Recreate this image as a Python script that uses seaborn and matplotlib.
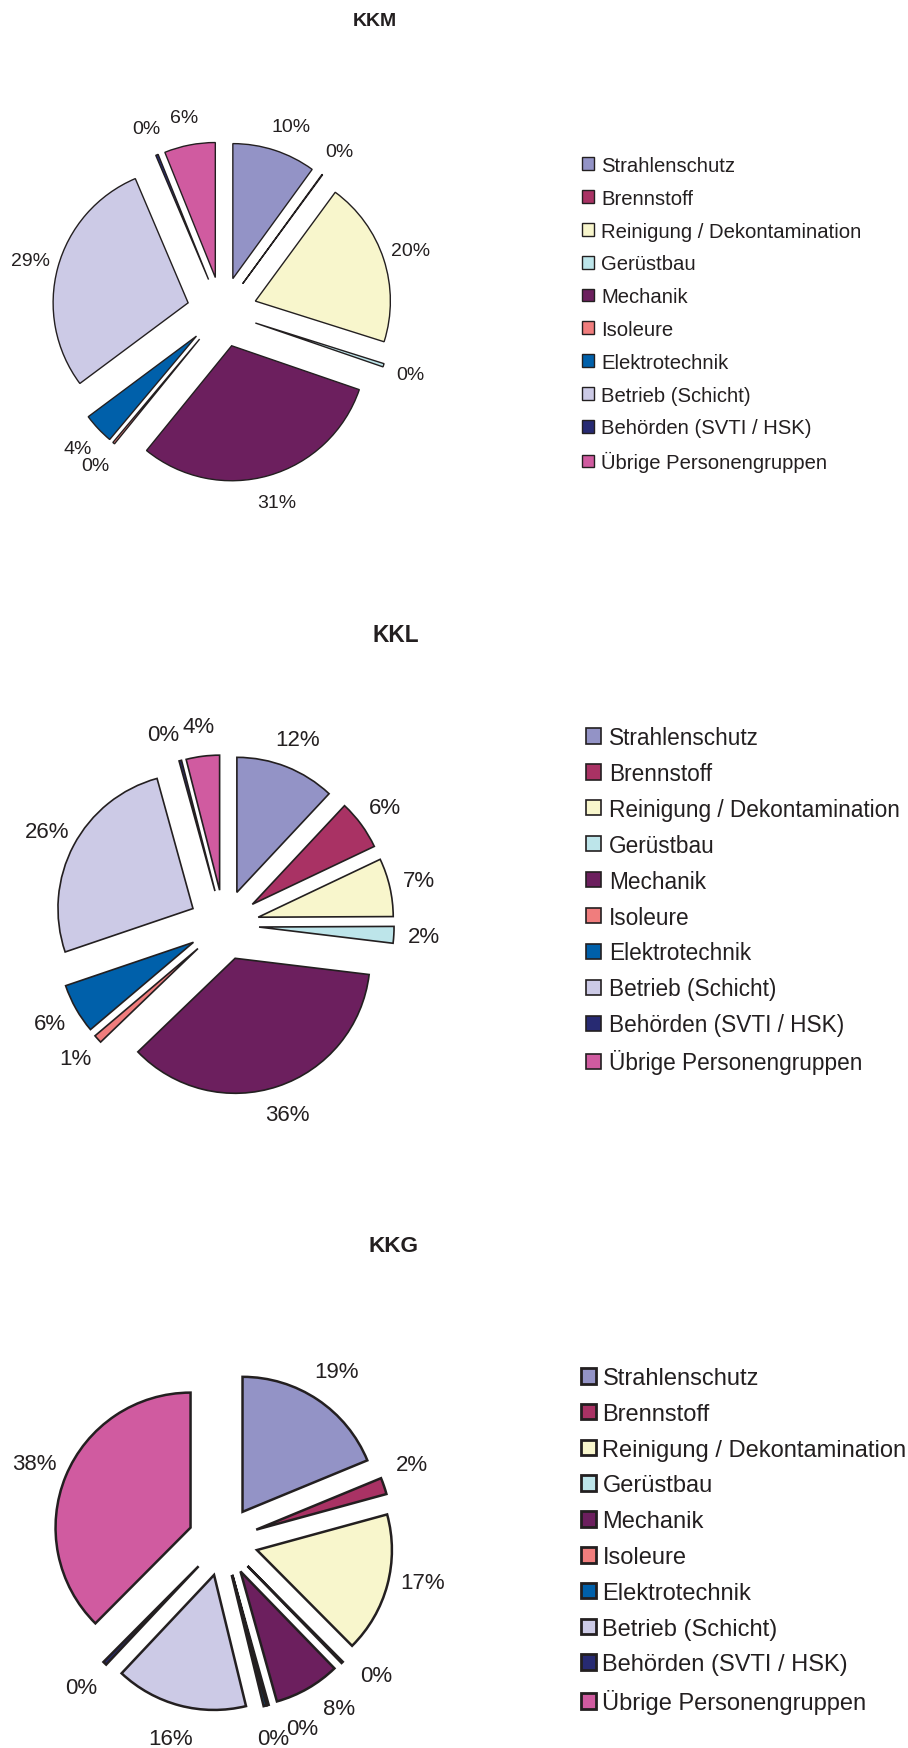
import numpy as np
import matplotlib
matplotlib.use("Agg")
import matplotlib.pyplot as plt
import seaborn as sns

# ---------------- data ----------------
categories = ["Strahlenschutz", "Brennstoff", "Reinigung / Dekontamination", "Gerüstbau",
              "Mechanik", "Isoleure", "Elektrotechnik", "Betrieb (Schicht)",
              "Behörden (SVTI / HSK)", "Übrige Personengruppen"]

kkm_values = [10.0, 0.08, 19.8, 0.4, 30.6, 0.25, 3.7, 28.8, 0.3, 6.1]
kkl_values = [12.0, 6.0, 7.0, 2.0, 36.0, 1.0, 6.0, 26.0, 0.3, 4.0]
kkg_values = [19.0, 2.0, 17.0, 0.2, 8.0, 0.2, 0.35, 16.0, 0.45, 38.0]

titles = ["KKM", "KKL", "KKG"]

colors_hex = ["#9393C6", "#A93264", "#F8F6CC", "#BDE5EA", "#6C1F5E",
              "#F07D7D", "#0060AA", "#CCCAE6", "#272A72", "#D05BA0"]

# ---------------- style ----------------
sns.set_theme(style="white")
plt.rcParams["font.family"] = ["Liberation Sans", "DejaVu Sans"]
palette = sns.color_palette(colors_hex)
TXT = "#231F20"

W, H = 908, 1749
fig = plt.figure(figsize=(W / 100, H / 100), dpi=100)

R_PX = 135.0
EXPLODE = 0.26
BOX = 440.0

# per-chart layout (pixel units of the figure)
layout = [
    dict(center=(222, 313), title_xy=(374.5, 21), title_fs=14.0, lab_fs=14.0, lw=1.0, pctd=1.21,
         leg_xy=(582, 157), leg_fs=14.6, leg_hl=0.6, leg_pad=0.35, leg_sp=0.68, leg_lw=1.0,
         nudge={0: 3}),
    dict(center=(224, 926), title_xy=(396, 636), title_fs=16.3, lab_fs=16.0, lw=1.2, pctd=1.22,
         leg_xy=(586, 727), leg_fs=16.3, leg_hl=0.66, leg_pad=0.35, leg_sp=0.57, leg_lw=1.2,
         nudge={8: -3.5}),
    dict(center=(223, 1542), title_xy=(393, 1247), title_fs=16.2, lab_fs=16.0, lw=1.8, pctd=1.25,
         leg_xy=(581, 1368), leg_fs=17.0, leg_hl=0.64, leg_pad=0.27, leg_sp=0.585, leg_lw=2.0,
         nudge={1: -4, 2: -4, 3: -5, 4: -6, 5: -9}),
]

all_values = [kkm_values, kkl_values, kkg_values]

for vals, title, lay in zip(all_values, titles, layout):
    cx, cy = lay["center"]
    ax = fig.add_axes([(cx - BOX / 2) / W, (H - cy - BOX / 2) / H, BOX / W, BOX / H])
    wedges, texts, autotexts = ax.pie(
        vals, colors=palette, startangle=90, counterclock=False,
        explode=[EXPLODE] * len(vals), autopct="%.0f%%", pctdistance=lay["pctd"],
        wedgeprops=dict(edgecolor=TXT, linewidth=lay["lw"], joinstyle="miter"),
        textprops=dict(color=TXT, fontsize=lay["lab_fs"]),
    )
    lim = BOX / 2 / R_PX
    ax.set_xlim(-lim, lim)
    ax.set_ylim(-lim, lim)
    ax.set_aspect("equal")
    ax.axis("off")

    # label placement around each exploded wedge (with small angular nudges)
    for i, (w, t) in enumerate(zip(wedges, autotexts)):
        ang = 0.5 * (w.theta1 + w.theta2) - lay["nudge"].get(i, 0.0)
        a = np.deg2rad(ang)
        ox, oy = w.center
        t.set_position((ox + lay["pctd"] * np.cos(a), oy + lay["pctd"] * np.sin(a)))
        t.set_ha("center")
        t.set_va("center")

    fig.text(lay["title_xy"][0] / W, 1 - lay["title_xy"][1] / H, title,
             ha="center", va="center", fontsize=lay["title_fs"], fontweight="bold", color=TXT)

    leg = fig.legend(wedges, categories, loc="upper left",
                     bbox_to_anchor=(lay["leg_xy"][0] / W, 1 - lay["leg_xy"][1] / H),
                     bbox_transform=fig.transFigure, frameon=False, borderpad=0,
                     borderaxespad=0, fontsize=lay["leg_fs"], handlelength=lay["leg_hl"],
                     handleheight=lay["leg_hl"], handletextpad=lay["leg_pad"],
                     labelspacing=lay["leg_sp"])
    for h in leg.legend_handles:
        h.set_linewidth(lay["leg_lw"])
        h.set_edgecolor(TXT)
    for txt in leg.get_texts():
        txt.set_color(TXT)

fig.savefig("out.png", dpi=100, facecolor="white")
